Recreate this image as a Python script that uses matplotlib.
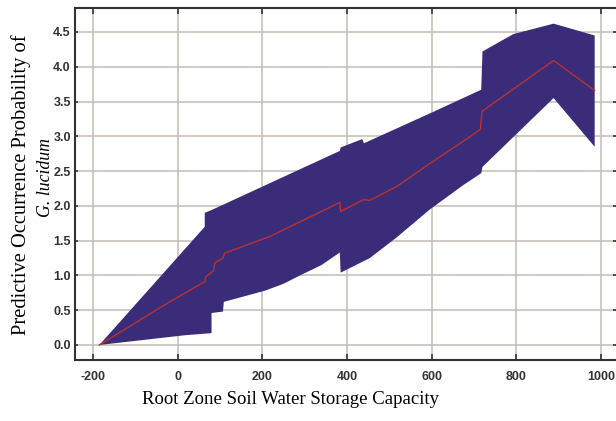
import numpy as np
import matplotlib.pyplot as plt

# band edges and mean response
upper_x = [-185, 64, 64, 80, 383, 385, 436, 440, 596, 717, 720, 793, 888, 985]
upper_y = [0.0, 1.70, 1.90, 1.94, 2.79, 2.84, 2.96, 2.90, 3.33, 3.67, 4.22, 4.47, 4.62, 4.45]

lower_x = [-185, 17, 80, 80, 107, 109, 206, 250, 289, 340, 383, 385, 454, 518, 596, 675, 717, 720, 888, 985]
lower_y = [0.0, 0.14, 0.17, 0.46, 0.48, 0.62, 0.78, 0.88, 1.00, 1.15, 1.33, 1.04, 1.25, 1.55, 1.95, 2.30, 2.47, 2.56, 3.55, 2.85]

mean_x = [-185, -19, 64, 66, 84, 88, 107, 111, 218, 289, 383, 385, 439, 454, 518, 596, 675, 715, 719, 888, 985]
mean_y = [0.0, 0.62, 0.91, 0.98, 1.06, 1.18, 1.25, 1.32, 1.56, 1.77, 2.05, 1.92, 2.09, 2.08, 2.28, 2.61, 2.93, 3.10, 3.36, 4.09, 3.66]

x_ticks = [-200, 0, 200, 400, 600, 800, 1000]
y_ticks = [0.0, 0.5, 1.0, 1.5, 2.0, 2.5, 3.0, 3.5, 4.0, 4.5]

fig = plt.figure(figsize=(6.16, 4.21), dpi=100)
ax = fig.add_axes([75/616, 61/421, 541/616, 352/421])

poly_x = np.concatenate([upper_x, lower_x[::-1]])
poly_y = np.concatenate([upper_y, lower_y[::-1]])
ax.fill(poly_x, poly_y, color='#3b2c79', lw=0, zorder=2)
ax.plot(mean_x, mean_y, color='#b83232', lw=1.0, zorder=3)

ax.set_xlim(-242.5, 1035.4)
ax.set_ylim(-0.216, 4.845)
ax.set_xticks(x_ticks)
ax.set_yticks(y_ticks)
ax.set_xticklabels([str(v) for v in x_ticks])
ax.set_yticklabels([f"{v:.1f}" for v in y_ticks])

ax.grid(True, color='#c4bcb4', lw=1.1, zorder=0)
ax.set_axisbelow(True)

for s in ['left', 'bottom', 'top']:
    ax.spines[s].set_color('#333333')
    ax.spines[s].set_linewidth(1.5)
ax.spines['right'].set_visible(False)

ax.tick_params(axis='x', direction='in', top=True, length=4, width=1.2, pad=8, color='#333333')
ax.tick_params(axis='y', direction='in', right=True, length=2, width=1.2, pad=3, color='#333333')
for lab in ax.get_xticklabels() + ax.get_yticklabels():
    lab.set_fontfamily('Liberation Sans')
    lab.set_fontweight('bold')
    lab.set_fontsize(9)
    lab.set_color('#333333')

fig.text(290/616, 1 - 400/421, 'Root Zone Soil Water Storage Capacity',
         family='Liberation Serif', fontsize=13.5, ha='center', va='center')
fig.text(21/616, 1 - 185/421, 'Predictive Occurrence Probability of',
         family='Liberation Serif', fontsize=14.8, ha='center', va='center', rotation=90)
fig.text(45/616, 1 - 177/421, 'G. lucidum',
         family='Liberation Serif', style='italic', fontsize=12.8, ha='center', va='center', rotation=90)

fig.savefig('out.png', dpi=100)
